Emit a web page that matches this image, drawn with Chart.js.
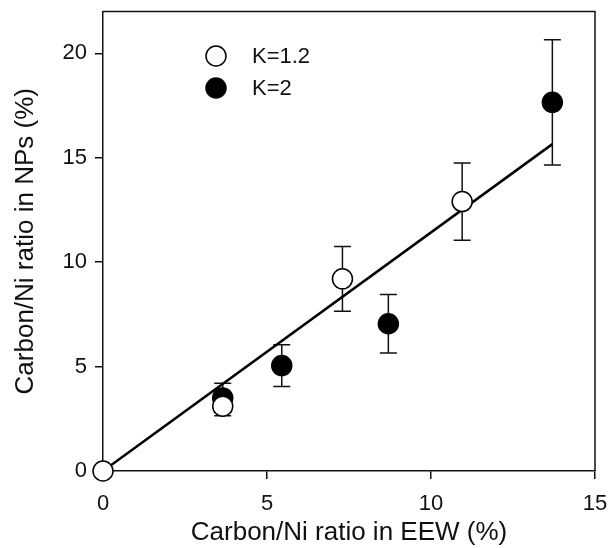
<!DOCTYPE html>
<html>
<head>
<meta charset="utf-8">
<script src="https://cdn.jsdelivr.net/npm/chart.js@4"></script>
<style>
  body { margin: 0; background: #fff; }
  canvas { display: block; }
</style>
</head>
<body>
<canvas id="grafico" width="609" height="548"></canvas>
<script>
// datos
const k12X = [0, 3.65, 7.3, 10.95];
const k12Y = [0, 3.1, 9.2, 12.9];
const k12Err = [0, 0.45, 1.55, 1.85];

const k2X = [3.65, 5.45, 8.7, 13.7];
const k2Y = [3.5, 5.05, 7.05, 17.65];
const k2Err = [0.7, 1.0, 1.4, 3.0];

const ajusteX = [0, 13.7];
const ajusteY = [0, 15.65];

const xTicks = [0, 5, 10, 15];
const yTicks = [0, 5, 10, 15, 20];

const etiquetas = ['K=1.2', 'K=2'];

const aPuntos = (xs, ys) => xs.map((x, i) => ({ x: x, y: ys[i] }));

// quita el relleno extra que Chart.js deja para las etiquetas
const sinRelleno = s => {
    s.paddingTop = 0; s.paddingBottom = 0;
    s.paddingLeft = 0; s.paddingRight = 0;
};

// barras de error, marco y leyenda
const extras = {
    id: 'extras',
    beforeDatasetsDraw(chart) {
        const ctx = chart.ctx;
        const sx = chart.scales.x, sy = chart.scales.y;
        ctx.save();
        ctx.strokeStyle = '#111';
        ctx.lineWidth = 1.5;
        [[k12X, k12Y, k12Err], [k2X, k2Y, k2Err]].forEach(([xs, ys, es]) => {
            xs.forEach((x, i) => {
                if (!es[i]) return;
                const px = sx.getPixelForValue(x);
                const top = sy.getPixelForValue(ys[i] + es[i]);
                const bot = sy.getPixelForValue(ys[i] - es[i]);
                ctx.beginPath();
                ctx.moveTo(px, top); ctx.lineTo(px, bot);
                ctx.moveTo(px - 8.5, top); ctx.lineTo(px + 8.5, top);
                ctx.moveTo(px - 8.5, bot); ctx.lineTo(px + 8.5, bot);
                ctx.stroke();
            });
        });
        ctx.restore();
    },
    afterDraw(chart) {
        const ctx = chart.ctx;
        const a = chart.chartArea;
        ctx.save();
        ctx.strokeStyle = '#111';
        ctx.lineWidth = 1.5;
        ctx.beginPath();
        ctx.moveTo(a.left, a.top); ctx.lineTo(a.right, a.top); ctx.lineTo(a.right, a.bottom);
        ctx.stroke();
        // leyenda
        const filas = [56, 88];
        etiquetas.forEach((t, i) => {
            ctx.beginPath();
            ctx.arc(216, filas[i], 10, 0, Math.PI * 2);
            ctx.fillStyle = i === 0 ? '#fff' : '#000';
            ctx.fill();
            ctx.strokeStyle = '#000';
            ctx.lineWidth = 1.5;
            ctx.stroke();
            ctx.fillStyle = '#111';
            ctx.font = '22px "Liberation Sans", Arial, sans-serif';
            ctx.textBaseline = 'middle';
            ctx.fillText(t, 252, filas[i] + 1);
        });
        ctx.restore();
    }
};

const ctx = document.getElementById('grafico').getContext('2d');
const chart = new Chart(ctx, {
    type: 'scatter',
    data: {
        datasets: [{
            label: etiquetas[0],
            data: aPuntos(k12X, k12Y),
            pointRadius: 10,
            pointHoverRadius: 10,
            backgroundColor: '#fff',
            borderColor: '#000',
            borderWidth: 1.5,
            clip: false,
            order: 1
        }, {
            label: etiquetas[1],
            data: aPuntos(k2X, k2Y),
            pointRadius: 10,
            pointHoverRadius: 10,
            backgroundColor: '#000',
            borderColor: '#000',
            borderWidth: 1.5,
            clip: false,
            order: 2
        }, {
            type: 'line',
            label: 'ajuste',
            data: aPuntos(ajusteX, ajusteY),
            borderColor: '#000',
            borderWidth: 2.5,
            pointRadius: 0,
            fill: false,
            tension: 0,
            order: 3
        }]
    },
    options: {
        responsive: false,
        animation: false,
        devicePixelRatio: 1,
        layout: { padding: { left: 0, top: 10, right: 14, bottom: 0 } },
        plugins: {
            legend: { display: false },
            tooltip: { enabled: false }
        },
        scales: {
            x: {
                type: 'linear',
                min: 0,
                max: 15,
                afterFit: s => { s.height = 77; sinRelleno(s); },
                afterBuildTicks: s => { s.ticks = xTicks.map(v => ({ value: v })); },
                grid: { drawOnChartArea: false, drawTicks: true, tickLength: 8, color: '#111', lineWidth: 1.5 },
                border: { color: '#111', width: 1.5 },
                ticks: { color: '#111', padding: 12, font: { family: '"Liberation Sans", Arial, sans-serif', size: 22 } },
                title: {
                    display: true,
                    text: 'Carbon/Ni ratio in EEW (%)',
                    color: '#111',
                    padding: { top: 0, bottom: 0 },
                    font: { family: '"Liberation Sans", Arial, sans-serif', size: 26 }
                }
            },
            y: {
                type: 'linear',
                min: 0,
                max: 22,
                afterFit: s => { s.width = 103; sinRelleno(s); },
                afterBuildTicks: s => { s.ticks = yTicks.map(v => ({ value: v })); },
                grid: { drawOnChartArea: false, drawTicks: true, tickLength: 8, color: '#111', lineWidth: 1.5 },
                border: { color: '#111', width: 1.5 },
                ticks: { color: '#111', padding: 8, font: { family: '"Liberation Sans", Arial, sans-serif', size: 22 } },
                title: {
                    display: true,
                    text: 'Carbon/Ni ratio in NPs (%)',
                    color: '#111',
                    padding: { top: 10, bottom: 0 },
                    font: { family: '"Liberation Sans", Arial, sans-serif', size: 26 }
                }
            }
        }
    },
    plugins: [extras]
});
</script>
</body>
</html>
